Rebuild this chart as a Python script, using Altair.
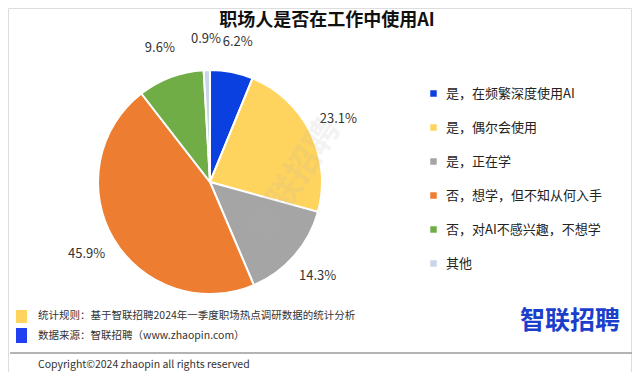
import altair as alt
import pandas as pd

categories = ["是，在频繁深度使用AI", "是，偶尔会使用", "是，正在学",
              "否，想学，但不知从何入手", "否，对AI不感兴趣，不想学", "其他"]
values = [6.2, 23.1, 14.3, 45.9, 9.6, 0.9]
colors = ["#0A3FE0", "#FFD45E", "#A5A5A5", "#ED7D31", "#70AD47", "#C9D5E8"]

title_text = "职场人是否在工作中使用AI"
note1 = "统计规则：基于智联招聘2024年一季度职场热点调研数据的统计分析"
note2 = "数据来源：智联招聘（www.zhaopin.com）"
copyright_text = "Copyright©2024 zhaopin all rights reserved"
logo_text = "智联招聘"

df = pd.DataFrame({
    "category": categories,
    "value": values,
    "order": list(range(len(categories))),
    "label": [f"{v:.1f}%" for v in values],
})

FONT = "Noto Sans CJK SC"
CX, CY = 202, 174

color_scale = alt.Scale(domain=categories, range=colors)

base = alt.Chart(df).encode(
    theta=alt.Theta("value:Q", stack=True),
    order=alt.Order("order:Q", sort="ascending"),
)

pie = base.mark_arc(outerRadius=112, stroke="white", strokeWidth=2).encode(
    x=alt.value(CX), y=alt.value(CY),
    color=alt.Color(
        "category:N", scale=color_scale, sort=categories,
        legend=alt.Legend(
            title=None, orient="none", legendX=419, legendY=79,
            symbolType="square", symbolSize=42, symbolStrokeWidth=0,
            labelFont=FONT, labelFontSize=13, labelColor="#222222",
            rowPadding=20, labelOffset=6, labelLimit=300,
        ),
    ),
)

labels = base.mark_text(radius=143, font=FONT, fontSize=13, color="#333333").encode(
    x=alt.value(CX), y=alt.value(CY),
    text="label:N",
)

def txt(s, x, y, size, color="#222222", weight="normal", align="left", angle=0,
        opacity=1.0, baseline="middle"):
    return alt.Chart(pd.DataFrame({"t": [s]})).mark_text(
        font=FONT, fontSize=size, color=color, fontWeight=weight, align=align,
        baseline=baseline, angle=angle, opacity=opacity,
    ).encode(x=alt.value(x), y=alt.value(y), text="t:N")

def rect(x1, x2, y1, y2, color):
    return alt.Chart(pd.DataFrame({"a": [0]})).mark_rect(color=color).encode(
        x=alt.value(x1), x2=alt.value(x2), y=alt.value(y1), y2=alt.value(y2))

watermark = txt(logo_text, 287, 172, 34, color="#b0b0b0", weight="bold",
                align="center", angle=303, opacity=0.14)

title = txt(title_text, 319, 4, 18, color="#111111", weight="bold", align="center",
            baseline="top")

sq1 = rect(8, 19, 302, 315, "#FFD45E")
sq2 = rect(8, 19, 320, 335, "#1F3FF0")
n1 = txt(note1, 30, 308, 10.5, color="#333333")
n2 = txt(note2, 30, 328, 10.5, color="#333333")
line = alt.Chart(pd.DataFrame({"a": [0]})).mark_rule(color="#9a9a9a", strokeWidth=1.5).encode(
    x=alt.value(2), x2=alt.value(624), y=alt.value(345))
cp = txt(copyright_text, 30, 357, 10.5, color="#333333")
logo = txt(logo_text, 562, 313, 25, color="#1B3FCB", weight="bold", align="center")

chart = alt.layer(
    pie, labels, watermark, title, sq1, sq2, n1, n2, line, cp, logo
).properties(
    width=624, height=364, padding=0,
    autosize=alt.AutoSizeParams(type="fit", contains="padding"),
).configure_view(stroke=None).configure(background="white")

chart.save("out.html", embed_options={"renderer": "svg", "actions": False})
